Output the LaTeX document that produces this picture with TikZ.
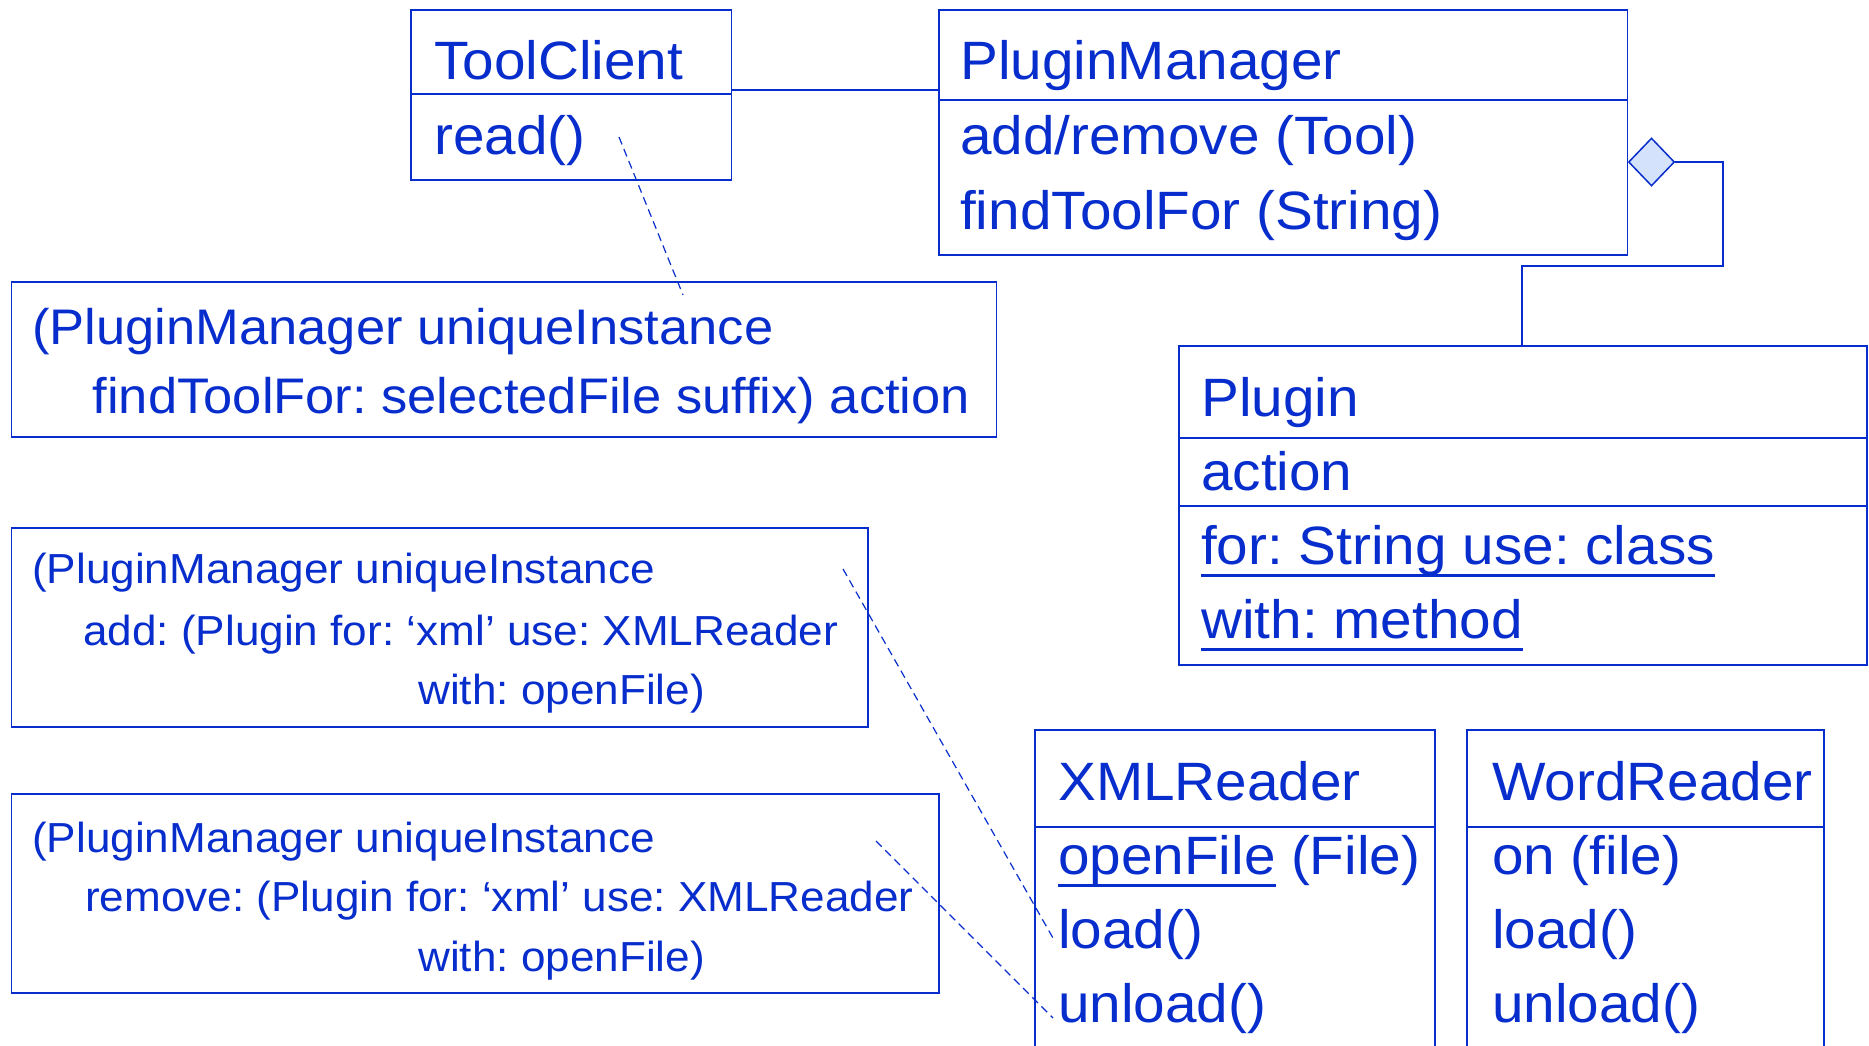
\documentclass[tikz,border=0pt]{standalone}
\usepackage{fontspec}
\setmainfont{Liberation Sans}[FakeStretch=1.05]
\usetikzlibrary{shapes.geometric}
\definecolor{ink}{RGB}{8,45,205}
\definecolor{dfill}{RGB}{212,226,252}
\frenchspacing
\begin{document}
\begin{tikzpicture}[x=1pt,y=-1pt,
  box/.style={draw=ink, line width=1.8pt, inner sep=0pt, outer sep=0pt, anchor=north west},
  big/.style={text=ink, anchor=base west, inner sep=0pt, font=\fontsize{54}{60}\selectfont},
  noteA/.style={text=ink, anchor=base west, inner sep=0pt, font=\fontsize{50}{55}\selectfont},
  noteB/.style={text=ink, anchor=base west, inner sep=0pt, font=\fontsize{42}{47}\selectfont},
  rel/.style={draw=ink, line width=1.8pt},
  anno/.style={draw=ink, line width=1.2pt, dash pattern=on 8pt off 5pt},
  ul/.style={draw=ink, line width=3pt}]
\useasboundingbox (0,0) rectangle (1869,1045);
\clip (0,0) rectangle (1869,1045);
% boxes
\node[box, minimum width=320.7pt, minimum height=170pt] (tc) at (410.7,10) {};
\draw[rel] (tc.west |- 0,94) -- (tc.east |- 0,94);
\node[box, minimum width=688.4pt, minimum height=245pt] (pm) at (939,10) {};
\draw[rel] (pm.west |- 0,100) -- (pm.east |- 0,100);
\node[box, minimum width=985pt, minimum height=155pt] (n1) at (11.5,282) {};
\node[box, minimum width=687.6pt, minimum height=319pt] (pl) at (1179,345.7) {};
\draw[rel] (pl.west |- 0,438) -- (pl.east |- 0,438);
\draw[rel] (pl.west |- 0,506) -- (pl.east |- 0,506);
\node[box, minimum width=856.2pt, minimum height=199pt] (n2) at (11.5,528) {};
\node[box, minimum width=927.5pt, minimum height=198.7pt] (n3) at (11.5,794) {};
\node[box, minimum width=400pt, minimum height=340pt] (xr) at (1035,730) {};
\draw[rel] (xr.west |- 0,827) -- (xr.east |- 0,827);
\node[box, minimum width=357pt, minimum height=340pt] (wr) at (1467,730) {};
\draw[rel] (wr.west |- 0,827) -- (wr.east |- 0,827);
% connectors
\draw[rel] (tc.east |- 0,90) -- (pm.west |- 0,90);
\node[diamond, draw=ink, fill=dfill, line width=1.5pt, minimum width=46pt, minimum height=48pt, inner sep=0pt] (dm) at (1651.5,162) {};
\draw[rel] (dm.east) -- (1723,162) -- (1723,266) -- (1522,266) -- (pl.north -| 1522,0);
\coordinate (a1s) at (619,137); \coordinate (a1e) at (683,295);
\coordinate (a2s) at (843,569); \coordinate (a2e) at (1053,938);
\coordinate (a3s) at (876,841); \coordinate (a3e) at (1053,1018);
\draw[anno] (a1s) -- (a1e);
\draw[anno] (a2s) -- (a2e);
\draw[anno] (a3s) -- (a3e);
% texts
\node[big] (t1) at (434,79) {ToolClient};
\node[big] (t2) at (434,154) {read()};
\node[big] (t3) at (960,79) {PluginManager};
\node[big] (t4) at (960,154) {add/remove (Tool)};
\node[big] (t5) at (960,229) {findToolFor (String)};
\node[noteA] (t6) at (32,344) {(PluginManager uniqueInstance};
\node[noteA] (t7) at (92.5,413) {findToolFor: selectedFile suffix) action};
\node[big] (t8) at (1201,416) {Plugin};
\node[big] (t9) at (1201,490) {action};
\node[big] (t10) at (1201,564) {for: String use: class};
\draw[ul] ([yshift=-11pt]t10.base west) -- ([yshift=-11pt]t10.base east);
\node[big] (t11) at (1201,638) {with: method};
\draw[ul] ([yshift=-11pt]t11.base west) -- ([yshift=-11pt]t11.base east);
\node[noteB] (t12) at (32,583) {(PluginManager uniqueInstance};
\node[noteB] (t13) at (83,645) {add: (Plugin for: `xml' use: XMLReader};
\node[noteB] (t14) at (418,704) {with: openFile)};
\node[noteB] (t15) at (32,852) {(PluginManager uniqueInstance};
\node[noteB] (t16) at (85,911) {remove: (Plugin for: `xml' use: XMLReader};
\node[noteB] (t17) at (418,971) {with: openFile)};
\node[big] (t18) at (1058,800) {XMLReader};
\node[big] (t19) at (1058,874) {openFile};
\draw[ul] ([yshift=-11pt]t19.base west) -- ([yshift=-11pt]t19.base east);
\node[big, anchor=base west] (t20) at ([xshift=15pt]t19.base east) {(File)};
\node[big] (t21) at (1058,948) {load()};
\node[big] (t22) at (1058,1022) {unload()};
\node[big] (t23) at (1492,800) {WordReader};
\node[big] (t24) at (1492,874) {on (file)};
\node[big] (t25) at (1492,948) {load()};
\node[big] (t26) at (1492,1022) {unload()};
\end{tikzpicture}
\end{document}
